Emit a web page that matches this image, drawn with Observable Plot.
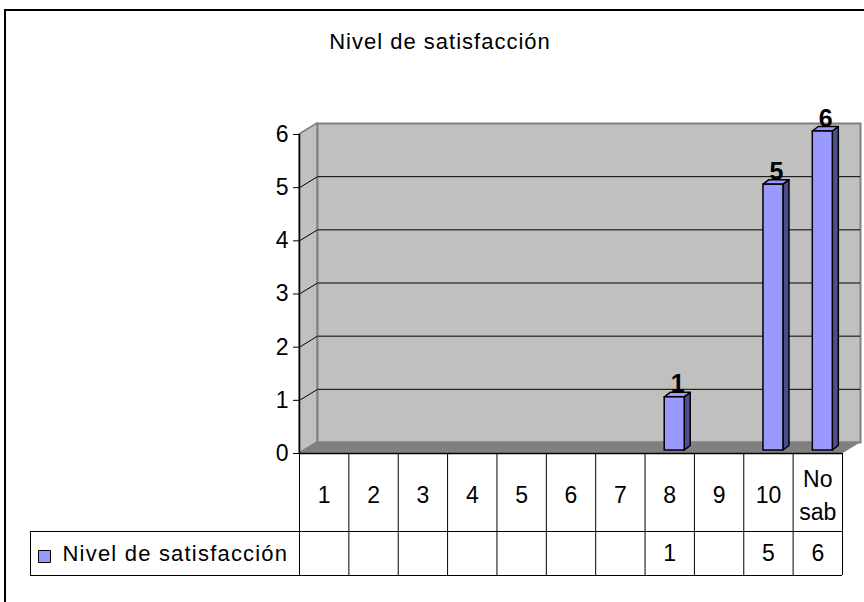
<!DOCTYPE html>
<html>
<head>
<meta charset="utf-8">
<script src="https://cdn.jsdelivr.net/npm/d3@7"></script>
<script src="https://cdn.jsdelivr.net/npm/@observablehq/plot@0.6"></script>
<style>
  html, body { margin: 0; padding: 0; background: #fff; width: 864px; height: 602px; overflow: hidden; }
  #wrap { position: relative; width: 864px; height: 602px; font-family: "Liberation Sans", Arial, sans-serif; }
  #border { position: absolute; left: 4px; top: 9px; width: 900px; height: 700px; border-top: 2px solid #000; border-left: 2px solid #000; }
  #title { position: absolute; left: 0; top: 29px; width: 880px; text-align: center; font-size: 22px; line-height: 25px; letter-spacing: 1px; color: #000; }
  #chart { position: absolute; left: 0; top: 0; }
</style>
</head>
<body>
<div id="wrap">
  <div id="border"></div>
  <div id="title"></div>
  <div id="chart"></div>
</div>
<script>
// ---- data ----
const chartTitle = "Nivel de satisfacción";
const seriesName = "Nivel de satisfacción";
const categories = ["1", "2", "3", "4", "5", "6", "7", "8", "9", "10", "No sab"];
const values = [null, null, null, null, null, null, null, 1, null, 5, 6];
const yTicks = [0, 1, 2, 3, 4, 5, 6];

// ---- layout (pixels) ----
const W = 864, H = 602;
const mL = 299, mR = 22, mT = 134, mB = 149;
const wallDX = 18, wallDY = 11;          // depth of the 3D walls
const barHalfW = 10;                     // half width of bar front face
const barFrontDX = 5, barFrontDY = 3;    // bar front face offset into the depth
const barDepthDX = 6, barDepthDY = 4.5;  // bar depth
const row1H = 78, row2H = 44, tableLeft = 30;

const yMax = d3.max(yTicks);
const nCat = categories.length;
const ppuX = (W - mL - mR) / nCat;
const ppuY = (H - mT - mB) / yMax;
const DXu = wallDX / ppuX, DYu = wallDY / ppuY;
const hw = barHalfW / ppuX, bdx = barDepthDX / ppuX, bdy = barDepthDY / ppuY;
const r1 = row1H / ppuY, r2 = (row1H + row2H) / ppuY;
const L = (tableLeft - mL) / ppuX;

const rows = categories.map((c, i) => ({cat: c, i, v: values[i]}));
const bars = rows.filter(d => d.v != null);
const gridTicks = yTicks.filter(t => t > 0 && t < yMax);

const sideData = bars.flatMap(d => [
  {k: d.cat, x: d.i + 0.5 + hw, y1: 0, y2: d.v},
  {k: d.cat, x: d.i + 0.5 + hw + bdx, y1: bdy, y2: d.v + bdy}
]);
const topData = bars.flatMap(d => [
  {k: d.cat, y: d.v, x1: d.i + 0.5 - hw, x2: d.i + 0.5 + hw},
  {k: d.cat, y: d.v + bdy, x1: d.i + 0.5 - hw + bdx, x2: d.i + 0.5 + hw + bdx}
]);

document.getElementById("title").textContent = chartTitle;

const plot = Plot.plot({
  width: W, height: H,
  marginLeft: mL, marginRight: mR, marginTop: mT, marginBottom: mB,
  style: {fontFamily: "Liberation Sans, Arial, sans-serif", fontSize: "22px", color: "#000", background: "transparent", overflow: "visible"},
  x: {domain: [0, nCat], axis: null},
  y: {domain: [0, yMax], axis: null},
  marks: [
    // back wall
    Plot.frame({fill: "#c0c0c0", stroke: "#808080", strokeWidth: 2, dx: wallDX, dy: -wallDY}),
    Plot.ruleY(gridTicks, {stroke: "#000", strokeWidth: 1, dx: wallDX, dy: -wallDY}),
    // side wall
    Plot.areaY([{x: 0, y1: 0, y2: yMax}, {x: DXu, y1: DYu, y2: yMax + DYu}],
      {x: "x", y1: "y1", y2: "y2", fill: "#c0c0c0", stroke: "#808080", strokeWidth: 1.5}),
    Plot.link(gridTicks, {x1: 0, x2: DXu, y1: d => d, y2: d => d + DYu, stroke: "#000", strokeWidth: 1}),
    // floor
    Plot.areaX([{y: 0, x1: 0, x2: nCat}, {y: DYu, x1: DXu, x2: nCat + DXu}],
      {y: "y", x1: "x1", x2: "x2", fill: "#808080", stroke: "#808080", strokeWidth: 1}),
    // axes lines
    Plot.ruleX([0], {y1: 0, y2: yMax, stroke: "#000", strokeWidth: 1.5}),
    Plot.ruleY([0], {stroke: "#000", strokeWidth: 1.5}),
    Plot.axisY(yTicks, {tickSize: 6, tickPadding: 5, fontSize: 23, label: null, stroke: "#000", tickFormat: d => String(d)}),
    // bars
    Plot.areaY(sideData, {x: "x", y1: "y1", y2: "y2", z: "k", dx: barFrontDX, dy: -barFrontDY,
      fill: "#4d4d8f", stroke: "#000", strokeWidth: 1.5}),
    Plot.areaX(topData, {y: "y", x1: "x1", x2: "x2", z: "k", dx: barFrontDX, dy: -barFrontDY,
      fill: "#9999ff", stroke: "#000", strokeWidth: 1.5}),
    Plot.rect(bars, {x1: d => d.i + 0.5 - hw, x2: d => d.i + 0.5 + hw, y1: 0, y2: "v",
      dx: barFrontDX, dy: -barFrontDY, fill: "#9999ff", stroke: "#000", strokeWidth: 1.5}),
    Plot.text(bars, {x: d => d.i + 0.5, y: "v", text: d => String(d.v), dx: 8, dy: -8,
      lineAnchor: "bottom", fontWeight: "bold", fontSize: 25, fill: "#000"}),
    // data table
    Plot.ruleX(d3.range(nCat + 1), {y1: 0, y2: -r2, stroke: "#000", strokeWidth: 1}),
    Plot.ruleY([-r1, -r2], {x1: L, x2: nCat, stroke: "#000", strokeWidth: 1}),
    Plot.ruleX([L], {y1: -r1, y2: -r2, stroke: "#000", strokeWidth: 1}),
    Plot.text(rows, {x: d => d.i + 0.5, y: -r1 / 2, text: d => d.cat.length > 3 ? d.cat.replace(" ", "\n") : d.cat,
      fontSize: 23, lineHeight: 1.45, fill: "#000"}),
    Plot.text(bars, {x: d => d.i + 0.5, y: -(r1 + r2) / 2, text: d => String(d.v), fontSize: 23, fill: "#000"}),
    Plot.dot([seriesName], {x: L, y: -(r1 + r2) / 2, dx: 14, dy: 3, symbol: "square", r: 6.8,
      fill: "#9999ff", stroke: "#000", strokeWidth: 1}),
    Plot.text([seriesName], {x: L, y: -(r1 + r2) / 2, text: d => d, dx: 32, textAnchor: "start",
      fontSize: 22, fill: "#000"})
  ]
});
d3.select(plot).selectAll("text")
  .filter(function() { return this.textContent === seriesName; })
  .style("letter-spacing", "1.2px");
document.getElementById("chart").appendChild(plot);
</script>
</body>
</html>
